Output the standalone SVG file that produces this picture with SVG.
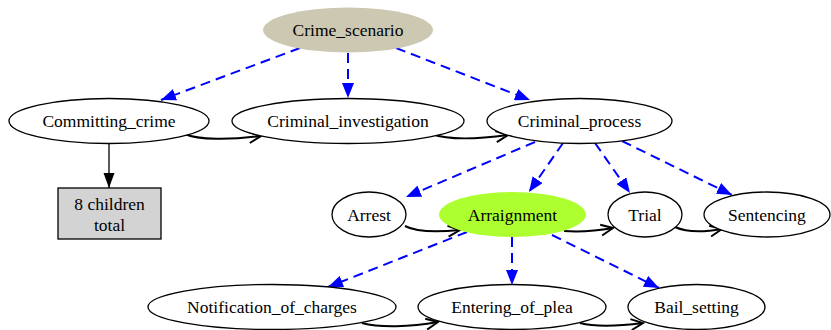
<svg xmlns="http://www.w3.org/2000/svg" width="831" height="330" viewBox="0 0 831 330" font-family="'Liberation Serif', 'Times New Roman', Times, serif">
<style>
text{font-family:'Liberation Serif', 'Times New Roman', Times, serif;font-size:17.5px;text-anchor:middle;fill:#000}
.n{fill:#fff;stroke:#000;stroke-width:1.3}
.d{fill:none;stroke:#0000ff;stroke-width:2;stroke-dasharray:10,6;marker-end:url(#ab)}
.s{fill:none;stroke:#000;stroke-width:2;marker-end:url(#ao)}
</style>
<defs>
<marker id="ab" markerUnits="userSpaceOnUse" markerWidth="16" markerHeight="12" refX="15" refY="6" orient="auto"><path d="M0,0 L15,6 L0,12 Z" fill="#0000ff"/></marker>
<marker id="ao" markerUnits="userSpaceOnUse" markerWidth="16" markerHeight="14" refX="13" refY="7" orient="auto"><path d="M1,1.5 L13,7 L1,12.5" fill="none" stroke="#000" stroke-width="2"/></marker>
<marker id="af" markerUnits="userSpaceOnUse" markerWidth="12" markerHeight="12" refX="15" refY="5.5" orient="auto" overflow="visible"><path d="M0,0 L15,5.5 L0,11 Z" fill="#000"/></marker>
</defs>
<g id="connectors">
<path class="d" d="M300,48 L161,100"/>
<path class="d" d="M348,53 L348,98"/>
<path class="d" d="M396,48 L530,100"/>
<path class="s" d="M185,134 C198,140 230,140 261,136"/>
<path class="s" d="M432,134 C448,140 478,139 508,135"/>
<path d="M109,143 L109,188" fill="none" stroke="#000" stroke-width="1.3" marker-end="url(#af)"/>
<path class="d" d="M535,142 L406,197"/>
<path class="d" d="M563,143 L529,192"/>
<path class="d" d="M595,143 L630,193"/>
<path class="d" d="M622,141 L732,195"/>
<path class="s" d="M405,226 C418,233 440,232 460,230"/>
<path class="s" d="M564,231 C578,232 596,231 613,228"/>
<path class="s" d="M675,227 C688,233 705,232 722,229"/>
<path class="d" d="M467,232 L328,287"/>
<path class="d" d="M512,237 L512,285"/>
<path class="d" d="M552,235 L659,288"/>
<path class="s" d="M362,323 C380,328 410,327 438,322"/>
<path class="s" d="M580,323 C595,327 620,326 643,323"/>
</g>
<g id="Crime_scenario"><ellipse cx="348" cy="30" rx="85" ry="22.5" fill="#cdc8b1"/><text x="348" y="36">Crime_scenario</text></g>
<g id="Committing_crime"><ellipse class="n" cx="109" cy="121" rx="100" ry="22.5"/><text x="109" y="127">Committing_crime</text></g>
<g id="Criminal_investigation"><ellipse class="n" cx="348" cy="121" rx="116" ry="22.5"/><text x="348" y="127">Criminal_investigation</text></g>
<g id="Criminal_process"><ellipse class="n" cx="579.5" cy="121" rx="92.5" ry="22.5"/><text x="579.5" y="127">Criminal_process</text></g>
<g id="children_total"><rect x="58" y="188" width="103" height="51" fill="#d3d3d3" stroke="#000" stroke-width="1.3"/><text x="109.5" y="210">8 children</text><text x="109.5" y="231">total</text></g>
<g id="Arrest"><ellipse class="n" cx="369" cy="214.5" rx="37" ry="22.5"/><text x="369" y="220.5">Arrest</text></g>
<g id="Arraignment"><ellipse cx="512.5" cy="214.5" rx="73.5" ry="22.5" fill="#adff2f"/><text x="512.5" y="220.5">Arraignment</text></g>
<g id="Trial"><ellipse class="n" cx="645" cy="214.5" rx="37" ry="22.5"/><text x="645" y="220.5">Trial</text></g>
<g id="Sentencing"><ellipse class="n" cx="767" cy="214.5" rx="63" ry="22.5"/><text x="767" y="220.5">Sentencing</text></g>
<g id="Notification_of_charges"><ellipse class="n" cx="272" cy="307" rx="124" ry="22.5"/><text x="272" y="313">Notification_of_charges</text></g>
<g id="Entering_of_plea"><ellipse class="n" cx="512" cy="307" rx="94" ry="22.5"/><text x="512" y="313">Entering_of_plea</text></g>
<g id="Bail_setting"><ellipse class="n" cx="696.5" cy="307" rx="68.5" ry="22.5"/><text x="696.5" y="313">Bail_setting</text></g>
</svg>
